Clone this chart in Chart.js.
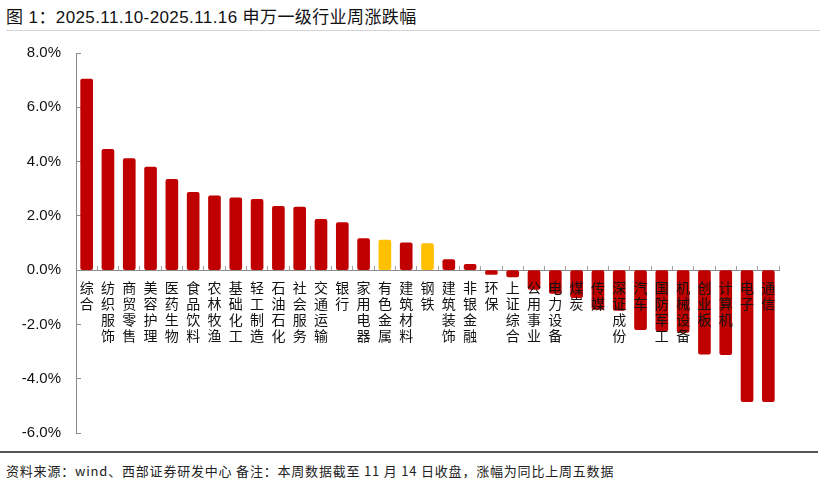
<!DOCTYPE html>
<html>
<head>
<meta charset="utf-8">
<script src="https://cdn.jsdelivr.net/npm/chart.js@4"></script>
<style>
  html, body { margin: 0; padding: 0; background: #fff; }
  body { width: 826px; height: 484px; position: relative; overflow: hidden; font-family: "Liberation Sans", "Noto Sans CJK SC", sans-serif; }
  #title { position: absolute; left: 6px; top: 3px; font-size: 17px; color: #111; letter-spacing: 0.4px; white-space: nowrap; }
  #titleLine { position: absolute; left: 6px; right: 6px; top: 30px; height: 1px; background: #d4d4d4; }
  #wrap { position: absolute; left: 0; top: 30px; width: 826px; height: 420px; }
  #bottomLine { position: absolute; left: 0; width: 818px; top: 451px; height: 2px; background: #555; }
  #source { position: absolute; left: 6px; top: 461px; font-size: 13px; color: #222; letter-spacing: 0.8px; white-space: nowrap; font-family: "Noto Sans CJK SC", sans-serif; }
</style>
</head>
<body>
<div id="title">图 1：2025.11.10-2025.11.16 申万一级行业周涨跌幅</div>
<div id="titleLine"></div>
<div id="wrap"><canvas id="weekChart" width="826" height="420"></canvas></div>
<div id="bottomLine"></div>
<div id="source">资料来源：wind、西部证券研发中心 备注：本周数据截至 11 月 14 日收盘，涨幅为同比上周五数据</div>
<script>
// 行业名称与周涨跌幅(%)
const industries = ['综合', '纺织服饰', '商贸零售', '美容护理', '医药生物', '食品饮料', '农林牧渔', '基础化工',
    '轻工制造', '石油石化', '社会服务', '交通运输', '银行', '家用电器', '有色金属', '建筑材料', '钢铁',
    '建筑装饰', '非银金融', '环保', '上证综合', '公用事业', '电力设备', '煤炭', '传媒', '深证成份', '汽车',
    '国防军工', '机械设备', '创业板', '计算机', '电子', '通信'];
const weeklyChange = [7.04, 4.45, 4.11, 3.80, 3.35, 2.87, 2.74, 2.66, 2.61, 2.35, 2.32, 1.87, 1.75, 1.16,
    1.11, 1.01, 0.98, 0.39, 0.21, -0.16, -0.25, -0.71, -0.86, -1.01, -1.45, -1.48, -2.19, -2.24, -2.29,
    -3.10, -3.11, -4.85, -4.85];
const highlighted = ['有色金属', '钢铁'];
const yTicks = [-6, -4, -2, 0, 2, 4, 6, 8];

const colors = industries.map(name => highlighted.includes(name) ? '#FFC000' : '#C00000');
// 竖排标签：一字一行
const labels = industries.map(name => name.split(''));

const ctx = document.getElementById('weekChart').getContext('2d');
new Chart(ctx, {
    type: 'bar',
    data: {
        labels: labels,
        datasets: [{
            data: weeklyChange,
            backgroundColor: colors,
            borderRadius: 2,
            borderSkipped: false,
            barThickness: 12
        }]
    },
    options: {
        responsive: false,
        animation: false,
        layout: { padding: { top: 23, right: 47, bottom: 17, left: 0 } },
        plugins: {
            legend: { display: false },
            tooltip: { enabled: false }
        },
        scales: {
            x: {
                type: 'category',
                position: { y: 0 },
                offset: true,
                afterFit: s => { s.height = 0; },
                border: { color: '#8c8c8c', width: 1 },
                grid: { offset: true, drawOnChartArea: false, tickLength: -5, color: '#a0a0a0' },
                ticks: {
                    z: 1,
                    autoSkip: false,
                    maxRotation: 0,
                    minRotation: 0,
                    padding: 14,
                    color: '#111',
                    font: { family: '"Noto Sans CJK SC"', size: 14, lineHeight: 1.15 }
                }
            },
            y: {
                min: -6,
                max: 8,
                afterFit: s => { s.width = 76; s.paddingTop = 0; s.paddingBottom = 0; },
                afterBuildTicks: s => { s.ticks = yTicks.map(v => ({ value: v })); },
                border: { color: '#8c8c8c', width: 1 },
                grid: { drawOnChartArea: false, tickLength: -5, color: '#8c8c8c' },
                ticks: {
                    padding: 20,
                    color: '#111',
                    font: { family: '"Liberation Sans"', size: 15 },
                    callback: v => v.toFixed(1) + '%'
                }
            }
        }
    }
});
</script>
</body>
</html>
